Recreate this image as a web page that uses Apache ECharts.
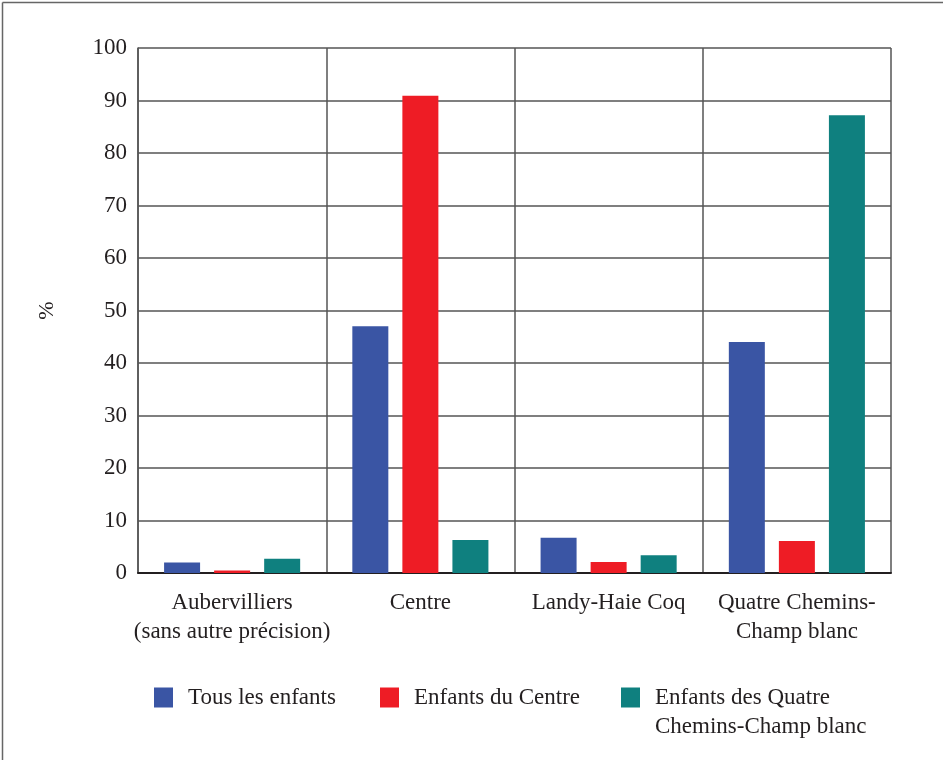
<!DOCTYPE html>
<html>
<head>
<meta charset="utf-8">
<script src="https://cdn.jsdelivr.net/npm/echarts@6/dist/echarts.min.js"></script>
<style>
html,body{margin:0;padding:0;background:#fff;}
#chart{width:943px;height:760px;}
</style>
</head>
<body>
<div id="chart"></div>
<script>
const categories = ["Aubervilliers\n(sans autre précision)", "Centre", "Landy-Haie Coq", "Quatre Chemins-\nChamp blanc"];
const seriesNames = ["Tous les enfants", "Enfants du Centre", "Enfants des Quatre\nChemins-Champ blanc"];
const tousLesEnfants = [2.0, 47.0, 6.7, 44.0];
const enfantsDuCentre = [0.5, 90.9, 2.1, 6.1];
const enfantsQuatreChemins = [2.7, 6.3, 3.4, 87.2];
const yTicks = [0, 10, 20, 30, 40, 50, 60, 70, 80, 90, 100];

const colors = ["#3A55A4", "#EE1C25", "#0F807F"];
const FONT = "Liberation Serif";
const TXT = "#231F20";

const chart = echarts.init(document.getElementById('chart'), null, {renderer: 'canvas'});

function mkLegend(i, left, top, formatter) {
  const l = {
    left: left,
    top: top,
    orient: 'horizontal',
    itemWidth: 19,
    itemHeight: 20,
    icon: 'rect',
    selectedMode: false,
    data: [seriesNames[i]],
    textStyle: {fontFamily: FONT, fontSize: 23, color: TXT, lineHeight: 29, padding: [0, 0, 0, 10]}
  };
  if (formatter) l.formatter = formatter;
  return l;
}

const option = {
  animation: false,
  backgroundColor: '#fff',
  color: colors,
  textStyle: {fontFamily: FONT, color: TXT},
  graphic: [
    {type: 'line', shape: {x1: 2.5, y1: 2.5, x2: 943, y2: 2.5}, style: {stroke: '#666', lineWidth: 1.5}},
    {type: 'line', shape: {x1: 2.5, y1: 2.5, x2: 2.5, y2: 760}, style: {stroke: '#666', lineWidth: 1.5}}
  ],
  legend: [
    mkLegend(0, 149, 678),
    mkLegend(1, 375, 678),
    mkLegend(2, 616, 649, function (n) { return '\n' + n; })
  ],
  grid: {left: 138, right: 52, top: 48, bottom: 187, containLabel: false},
  xAxis: {
    type: 'category',
    data: categories,
    axisLine: {show: true, lineStyle: {color: '#231F20', width: 2}},
    axisTick: {show: false},
    splitLine: {show: true, lineStyle: {color: '#555', width: 1.5}},
    axisLabel: {fontFamily: FONT, fontSize: 23, color: TXT, lineHeight: 29, margin: 15, interval: 0}
  },
  yAxis: {
    type: 'value',
    min: 0,
    max: 100,
    interval: 10,
    name: '%',
    nameLocation: 'middle',
    nameGap: 80,
    nameRotate: 90,
    nameTextStyle: {fontFamily: FONT, fontSize: 22, color: TXT, padding: [0, 0, 0, 0]},
    axisLine: {show: true, lineStyle: {color: '#555', width: 1.5}},
    axisTick: {show: false},
    splitLine: {show: true, lineStyle: {color: '#555', width: 1.5}},
    axisLabel: {
      fontFamily: FONT, fontSize: 23, color: TXT, margin: 11,
      formatter: function (v) { return yTicks.indexOf(v) >= 0 ? String(v) : ''; }
    }
  },
  series: [
    {name: seriesNames[0], type: 'bar', data: tousLesEnfants, barWidth: 36, barGap: '39%', itemStyle: {color: colors[0]}},
    {name: seriesNames[1], type: 'bar', data: enfantsDuCentre, barWidth: 36, barGap: '39%', itemStyle: {color: colors[1]}},
    {name: seriesNames[2], type: 'bar', data: enfantsQuatreChemins, barWidth: 36, barGap: '39%', itemStyle: {color: colors[2]}}
  ]
};
chart.setOption(option);
</script>
</body>
</html>
